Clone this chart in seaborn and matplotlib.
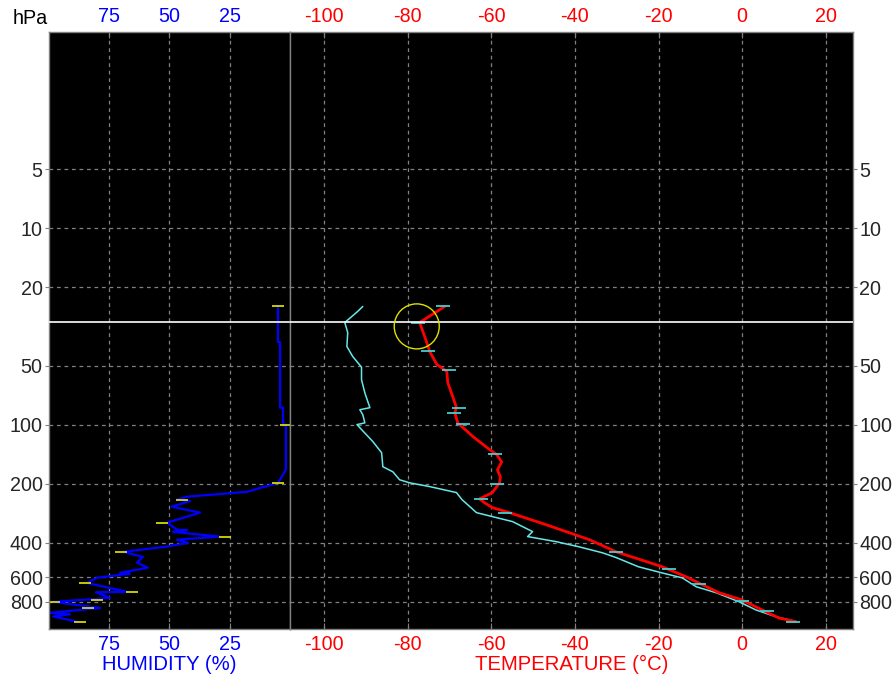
import matplotlib
matplotlib.use("Agg")
import matplotlib.pyplot as plt
import seaborn as sns
from matplotlib.ticker import FixedLocator, NullLocator

# Humedad relativa (%) contra presion (hPa)
hum_p = [25, 38, 38, 82, 82, 100, 100, 170, 180, 190, 198, 220, 233, 241, 245, 262, 281, 316, 343, 345,
         352, 372, 386, 400, 418, 445, 472, 505, 536, 569, 575, 603, 641, 711, 715, 762, 775, 800, 860,
         910, 925, 950, 1010]
hum_val = [5.0, 5.0, 4.1, 4.1, 2.9, 2.9, 1.7, 1.7, 2.9, 4.1, 5.0, 17.8, 42.7, 46.9, 41.5, 49.0, 37.3, 51.0,
           46.9, 42.7, 48.5, 29.0, 46.9, 42.3, 51.0, 69.3, 61.0, 63.5, 59.0, 70.5, 66.4, 80.0, 84.2, 67.6,
           80.5, 74.7, 81.7, 98.3, 78.8, 99.6, 91.3, 98.3, 88.0]

# Temperatura (C) contra presion
temp_p = [25, 30.2, 35.6, 42.4, 49.4, 53.6, 61, 72, 82, 87, 98, 115, 134, 142, 155, 170, 185, 198, 222,
          239, 250, 265, 281, 324, 386, 445, 530, 596, 655, 719, 780, 880, 967, 1010]
temp_val = [-71.1, -77.1, -75.9, -74.7, -73.0, -70.6, -70.4, -69.2, -68.3, -68.7, -68.0, -64.4, -60.4,
            -58.7, -57.5, -58.5, -57.8, -58.0, -59.7, -62.8, -61.6, -59.7, -55.6, -46.8, -36.5, -30.1,
            -19.1, -13.4, -9.5, -5.5, -0.2, 4.8, 8.8, 12.9]

# Punto de rocio (C) contra presion
dew_p = [25, 26.5, 30.2, 34, 40, 45, 51, 59, 69, 82, 84, 89, 98, 100, 122, 139, 164, 174, 191, 198, 207,
         222, 241, 281, 298, 312, 351, 372, 395, 420, 450, 476, 530, 570, 604, 670, 719, 800, 880, 953, 1010]
dew_val = [-90.7, -91.9, -95.0, -94.3, -94.5, -93.1, -91.0, -91.0, -90.2, -89.0, -91.4, -90.7, -90.2,
           -92.1, -88.3, -86.2, -85.9, -83.5, -81.9, -79.5, -74.7, -68.3, -67.0, -63.5, -58.7, -54.9,
           -50.1, -51.3, -44.4, -38.9, -33.4, -30.1, -24.8, -19.1, -14.3, -11.0, -6.2, -0.7, 3.3, 8.1, 12.9]

# Marcas cortas sobre las curvas
temp_mark_p = [25, 30.2, 42, 52.5, 82, 87, 99, 142, 200, 239, 281, 445, 544, 650, 790, 887, 1010]
temp_mark_t = [-71.5, -77.5, -75.0, -70.0, -67.8, -69.0, -66.8, -59.1, -58.5, -62.5, -56.6, -30.1,
               -17.4, -10.3, 0.0, 6.0, 12.2]
hum_mark_p = [25, 100, 198, 241, 316, 372, 445, 641, 711, 780, 800, 860, 1010]
hum_mark_h = [5.0, 1.7, 5.0, 45.0, 53.0, 27.0, 70.0, 85.0, 65.5, 80.0, 98.0, 84.0, 87.0]

# Tropopausa marcada
circle_t = [-77.8]
circle_p = [31.6]
line_p = 30

p_ticks = [5, 10, 20, 50, 100, 200, 400, 600, 800]
hum_ticks = [75, 50, 25]
temp_ticks = [-100, -80, -60, -40, -20, 0, 20]

sns.set_style("dark")
plt.rcParams['font.family'] = ['Liberation Sans', 'DejaVu Sans']
plt.rcParams['axes.unicode_minus'] = False

fig = plt.figure(figsize=(8.92, 6.77), dpi=100)
ax_h = fig.add_axes([0.0549, 0.0709, 0.2702, 0.8818])
ax_t = fig.add_axes([0.3251, 0.0709, 0.6312, 0.8818])

fs = 14.2
gris = '#808080'

for ax in (ax_h, ax_t):
    ax.set_facecolor('black')
    ax.set_yscale('log')
    ax.set_ylim(1100, 1)
    ax.yaxis.set_major_locator(FixedLocator(p_ticks))
    ax.yaxis.set_minor_locator(NullLocator())
    ax.set_yticklabels([str(p) for p in p_ticks])
    ax.grid(True, color=gris, linestyle=(0, (3, 3)), linewidth=0.9)
    for s in ax.spines.values():
        s.set_color(gris)
        s.set_linewidth(1)
    ax.axhline(line_p, color='white', lw=1.2, zorder=3)

# Humedad
sns.lineplot(x=hum_val, y=hum_p, sort=False, estimator=None, color='#0000ff', lw=1.6, ax=ax_h)
ax_h.plot(hum_mark_h, hum_mark_p, linestyle='none', marker='_', markersize=9, mew=1.3, color='#d8d800')
ax_h.set_xlim(100, 0)
ax_h.set_xticks(hum_ticks)
ax_h.set_xticklabels([str(h) for h in hum_ticks], color='#0000ff', fontsize=fs)
ax_h.tick_params(axis='x', top=True, bottom=True, labeltop=True, labelbottom=True,
                 direction='in', length=4, color=gris, pad=4)
ax_h.tick_params(axis='y', left=True, labelleft=True, labelsize=fs, direction='out',
                 length=3, color=gris, pad=1.5)
ax_h.set_xlabel('HUMIDITY (%)', color='#0000ff', fontsize=fs + 0.4, labelpad=1)
ax_h.set_ylabel('')

# Temperatura y punto de rocio
sns.lineplot(x=dew_val, y=dew_p, sort=False, estimator=None, color='#66e8e8', lw=1.1, ax=ax_t)
sns.lineplot(x=temp_val, y=temp_p, sort=False, estimator=None, color='#ff0000', lw=2.0, ax=ax_t)
ax_t.plot(temp_mark_t, temp_mark_p, linestyle='none', marker='_', markersize=10, mew=1.3, color='#40d0d0')
ax_t.scatter(circle_t, circle_p, s=1050, facecolors='none', edgecolors='#e0e000', linewidths=1, zorder=4)
ax_t.set_xlim(-108.1, 26.5)
ax_t.set_xticks(temp_ticks)
ax_t.set_xticklabels([str(t) for t in temp_ticks], color='#ff0000', fontsize=fs)
ax_t.tick_params(axis='x', top=True, bottom=True, labeltop=True, labelbottom=True,
                 direction='in', length=4, color=gris, pad=4)
ax_t.tick_params(axis='y', left=False, labelleft=False, right=True, labelright=True,
                 labelsize=fs, direction='out', length=3, color=gris, pad=1.5)
ax_t.set_xlabel('TEMPERATURE (°C)', color='#ff0000', fontsize=fs + 0.4, labelpad=1)
ax_t.set_ylabel('')

fig.text(13 / 892, 1 - 18 / 677, 'hPa', ha='left', va='center', fontsize=fs, color='black')

fig.savefig('out.png', dpi=100)
